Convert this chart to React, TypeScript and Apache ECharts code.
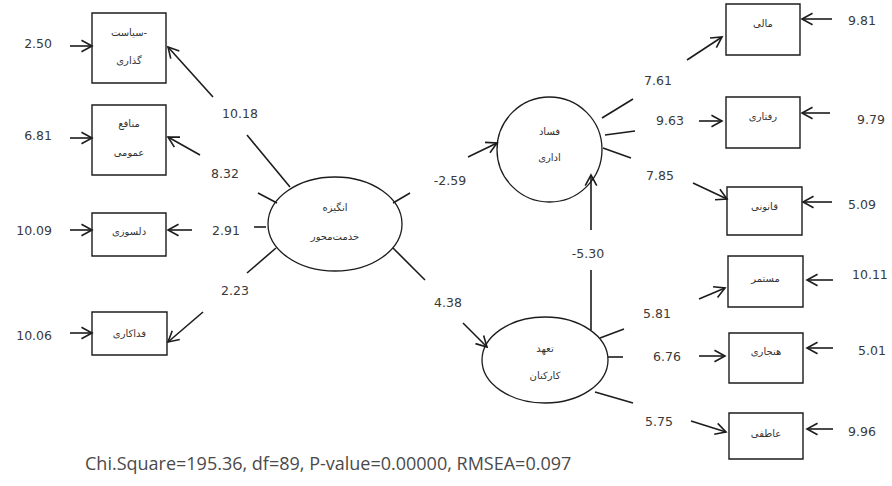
import React, { useEffect, useRef } from "react";
import * as echarts from "echarts";

// ---------- values ----------
const latentNames: string[][] = [
  ["انگیزه", "خدمت‌محور"],
  ["فساد", "اداری"],
  ["تعهد", "کارکنان"],
];
const indicatorNames: string[][] = [
  ["سیاست-", "گذاری"],
  ["منافع", "عمومی"],
  ["دلسوزی"],
  ["فداکاری"],
  ["مالی"],
  ["رفتاری"],
  ["قانونی"],
  ["مستمر"],
  ["هنجاری"],
  ["عاطفی"],
];
const errorValues: number[] = [2.5, 6.81, 10.09, 10.06, 9.81, 9.79, 5.09, 10.11, 5.01, 9.96];
const loadingValues: number[] = [10.18, 8.32, 2.91, 2.23, 7.61, 9.63, 7.85, 5.81, 6.76, 5.75];
const pathValues: number[] = [-2.59, 4.38, -5.3];
const fitStats: string[] = ["Chi.Square=195.36", "df=89", "P-value=0.00000", "RMSEA=0.097"];

// ---------- layout (diagram units) ----------
const latentLayout: number[][] = [
  [335, 224, 67, 47],
  [549.5, 149.5, 52.5, 52.5],
  [545, 360, 63, 43],
];
const latentTextY: number[][] = [
  [207, 236],
  [131, 157],
  [348, 375],
];
const boxLayout: number[][] = [
  [92, 13, 74, 70],
  [92, 105, 74, 70],
  [92, 213, 74, 43],
  [92, 312, 75, 43],
  [726, 4, 74, 51],
  [726, 97, 74, 51],
  [727, 187, 75, 48],
  [728, 256, 75, 51],
  [729, 333, 74, 50],
  [729, 413, 74, 46],
];
const boxTextY: number[][] = [
  [32, 60],
  [123, 152],
  [231],
  [333],
  [23],
  [116],
  [206],
  [278],
  [351],
  [433],
];
// [x1, y1, x2, y2, labelX, labelY, align(0 right, 1 left)]
const errorLayout: number[][] = [
  [70, 46, 92, 46, 52, 43, 0],
  [70, 138, 92, 138, 52, 135, 0],
  [70, 230, 92, 230, 52, 230, 0],
  [70, 333, 92, 333, 52, 335, 0],
  [832, 19, 802, 19, 848, 20, 1],
  [830, 113, 802, 113, 857, 119, 1],
  [832, 202, 803, 202, 848, 204, 1],
  [833, 280, 807, 280, 852, 274, 1],
  [833, 348, 807, 348, 858, 350, 1],
  [833, 429, 807, 429, 848, 431, 1],
];
// [ax1, ay1, ax2, ay2, bx1, by1, bx2, by2, labelX, labelY]
const loadingLayout: number[][] = [
  [290, 187, 247, 135, 213, 97, 168, 47, 240, 113],
  [277, 203, 258, 193, 200, 155, 168, 137, 225, 173],
  [266, 227, 254, 227, 192, 230, 168, 230, 226, 230],
  [276, 248, 247, 273, 203, 312, 168, 342, 235, 290],
  [602, 118, 633, 99, 687, 60, 722, 37, 658, 80],
  [605, 135, 635, 131, 699, 121, 722, 121, 670, 120],
  [603, 148, 631, 158, 693, 183, 727, 199, 660, 175],
  [600, 338, 624, 329, 699, 299, 725, 288, 657, 313],
  [608, 357, 623, 357, 699, 356, 725, 356, 667, 356],
  [595, 392, 633, 403, 691, 421, 726, 432, 659, 421],
];
const pathLayout: number[][] = [
  [393, 203, 410, 193, 468, 157, 497, 143, 450, 180],
  [393, 248, 425, 280, 463, 323, 487, 347, 448, 302],
  [591, 330, 591, 270, 591, 230, 591, 175, 588, 253],
];

const INK = "#1c1c1c";
const NUM = "#3a3a3a";
const LW = 1.6;
const NUM_FONT = "DejaVu Sans";
const FA_FONT = "DejaVu Sans";

function head(p1: number[], p2: number[]) {
  const a = Math.atan2(p2[1] - p1[1], p2[0] - p1[0]);
  const len = 12;
  const ang = 0.5;
  const l = [p2[0] - len * Math.cos(a - ang), p2[1] - len * Math.sin(a - ang)];
  const r = [p2[0] - len * Math.cos(a + ang), p2[1] - len * Math.sin(a + ang)];
  return {
    type: "polyline",
    shape: { points: [l, p2, r] },
    style: { stroke: INK, lineWidth: LW, fill: "none" },
  };
}

function seg(p1: number[], p2: number[]) {
  return {
    type: "line",
    shape: { x1: p1[0], y1: p1[1], x2: p2[0], y2: p2[1] },
    style: { stroke: INK, lineWidth: LW },
  };
}

function numText(x: number, y: number, text: string, align: string) {
  return {
    type: "text",
    x,
    y,
    style: {
      text,
      fill: NUM,
      fontSize: 12.5,
      fontFamily: NUM_FONT,
      align,
      verticalAlign: "middle",
    },
  };
}

function brokenPath(api: any, L: number[], value: number) {
  const a1 = api.coord([L[0], L[1]]);
  const a2 = api.coord([L[2], L[3]]);
  const b1 = api.coord([L[4], L[5]]);
  const b2 = api.coord([L[6], L[7]]);
  const lb = api.coord([L[8], L[9]]);
  return {
    type: "group",
    children: [seg(a1, a2), seg(b1, b2), head(b1, b2), numText(lb[0], lb[1], value.toFixed(2), "center")],
  };
}

export default function App() {
  const ref = useRef<HTMLDivElement>(null);
  useEffect(() => {
    if (!ref.current) return;
    const chart = echarts.init(ref.current, undefined, { renderer: "svg" });
    const option: any = {
      animation: false,
      backgroundColor: "#ffffff",
      grid: { left: 0, right: 0, top: 0, bottom: 0 },
      xAxis: { type: "value", min: 0, max: 892, show: false },
      yAxis: { type: "value", min: 0, max: 486, inverse: true, show: false },
      series: [
        {
          type: "custom",
          name: "indicators",
          coordinateSystem: "cartesian2d",
          data: boxLayout.map((b) => [b[0], b[1]]),
          renderItem: (params: any, api: any) => {
            const i = params.dataIndex;
            const b = boxLayout[i];
            const p1 = api.coord([b[0], b[1]]);
            const p2 = api.coord([b[0] + b[2], b[1] + b[3]]);
            const cx = (p1[0] + p2[0]) / 2;
            const children: any[] = [
              {
                type: "rect",
                shape: { x: p1[0], y: p1[1], width: p2[0] - p1[0], height: p2[1] - p1[1] },
                style: { stroke: INK, lineWidth: 1.4, fill: "#fff" },
              },
            ];
            indicatorNames[i].forEach((t, k) => {
              const ty = api.coord([0, boxTextY[i][k]])[1];
              children.push({
                type: "text",
                x: cx,
                y: ty,
                style: {
                  text: t,
                  fill: "#333",
                  fontSize: 10,
                  fontFamily: FA_FONT,
                  align: "center",
                  verticalAlign: "middle",
                },
              });
            });
            return { type: "group", children };
          },
        },
        {
          type: "custom",
          name: "latents",
          coordinateSystem: "cartesian2d",
          data: latentLayout.map((l) => [l[0], l[1]]),
          renderItem: (params: any, api: any) => {
            const i = params.dataIndex;
            const l = latentLayout[i];
            const c = api.coord([l[0], l[1]]);
            const e = api.coord([l[0] + l[2], l[1] + l[3]]);
            const children: any[] = [
              {
                type: "ellipse",
                shape: { cx: c[0], cy: c[1], rx: e[0] - c[0], ry: e[1] - c[1] },
                style: { stroke: INK, lineWidth: 1.3, fill: "#fff" },
              },
            ];
            latentNames[i].forEach((t, k) => {
              const ty = api.coord([0, latentTextY[i][k]])[1];
              children.push({
                type: "text",
                x: c[0],
                y: ty,
                style: {
                  text: t,
                  fill: "#333",
                  fontSize: 10,
                  fontFamily: FA_FONT,
                  align: "center",
                  verticalAlign: "middle",
                },
              });
            });
            return { type: "group", children };
          },
        },
        {
          type: "custom",
          name: "errors",
          coordinateSystem: "cartesian2d",
          data: errorLayout.map((e) => [e[0], e[1]]),
          renderItem: (params: any, api: any) => {
            const i = params.dataIndex;
            const L = errorLayout[i];
            const p1 = api.coord([L[0], L[1]]);
            const p2 = api.coord([L[2], L[3]]);
            const lb = api.coord([L[4], L[5]]);
            return {
              type: "group",
              children: [
                seg(p1, p2),
                head(p1, p2),
                numText(lb[0], lb[1], errorValues[i].toFixed(2), L[6] ? "left" : "right"),
              ],
            };
          },
        },
        {
          type: "custom",
          name: "loadings",
          coordinateSystem: "cartesian2d",
          data: loadingLayout.map((l) => [l[0], l[1]]),
          renderItem: (params: any, api: any) =>
            brokenPath(api, loadingLayout[params.dataIndex], loadingValues[params.dataIndex]),
        },
        {
          type: "custom",
          name: "paths",
          coordinateSystem: "cartesian2d",
          data: pathLayout.map((l) => [l[0], l[1]]),
          renderItem: (params: any, api: any) =>
            brokenPath(api, pathLayout[params.dataIndex], pathValues[params.dataIndex]),
        },
      ],
      graphic: [
        {
          type: "text",
          left: 85,
          top: 454,
          style: {
            text: fitStats.join(", "),
            fill: "#4a4a4a",
            fontSize: 18,
            fontFamily: "Open Sans",
          },
        },
      ],
    };
    chart.setOption(option);
    return () => chart.dispose();
  }, []);
  return (
    <div
      ref={ref}
      style={{ position: "absolute", left: 0, top: 0, width: 892, height: 486, background: "#fff" }}
    />
  );
}
